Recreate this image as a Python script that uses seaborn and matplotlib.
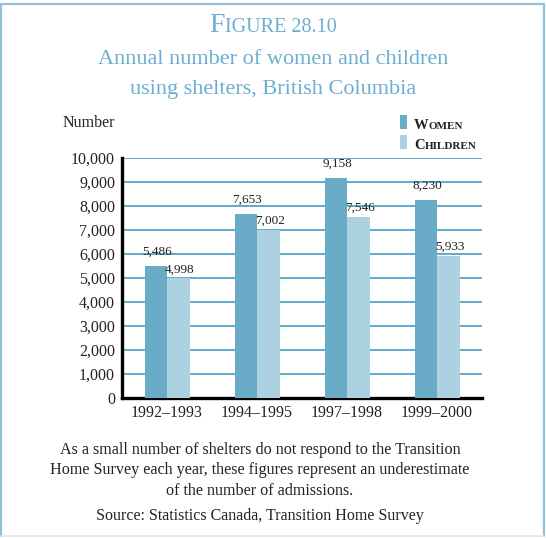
import pandas as pd
import seaborn as sns
import matplotlib.pyplot as plt
from matplotlib.patches import Rectangle
from matplotlib.lines import Line2D
from matplotlib.offsetbox import AnchoredOffsetbox, HPacker, VPacker, TextArea, DrawingArea

periods = ['1992–1993', '1994–1995', '1997–1998', '1999–2000']
women = [5486, 7653, 9158, 8230]
children = [4998, 7002, 7546, 5933]
groups = ['Women', 'Children']
y_ticks = [0, 1000, 2000, 3000, 4000, 5000, 6000, 7000, 8000, 9000, 10000]

df = pd.DataFrame({
    'period': periods * 2,
    'count': women + children,
    'group': ['Women'] * len(periods) + ['Children'] * len(periods),
})

sns.set_style('white')
plt.rcParams['font.family'] = ['Liberation Serif', 'DejaVu Serif']

teal = '#6aabc8'
light = '#acd1e1'
grid_blue = '#5eaacd'
title_blue = '#6caed0'
text_col = '#222222'

fig = plt.figure(figsize=(5.46, 5.38), dpi=100)
ax = fig.add_axes([122 / 546, 1 - 398 / 538, 360 / 546, 240 / 538])

sns.barplot(data=df, x='period', y='count', hue='group', hue_order=groups,
            palette=[teal, light], width=0.5, saturation=1, ax=ax, legend=False,
            linewidth=0, edgecolor='none', zorder=3)

ax.set_xlim(-0.5, 3.5)
ax.set_ylim(0, 10000)
ax.set_yticks(y_ticks)
ax.set_yticklabels([f'{v:,}' for v in y_ticks])
ax.yaxis.grid(True, color=grid_blue, linewidth=1.4, zorder=0)
ax.set_axisbelow(True)
ax.set_xlabel('')
ax.set_ylabel('')
for s in ['top', 'right']:
    ax.spines[s].set_visible(False)
for s in ['left', 'bottom']:
    ax.spines[s].set_color('black')
    ax.spines[s].set_linewidth(2.4)
ax.tick_params(axis='y', length=0, pad=5, labelsize=11.5, labelcolor=text_col)
ax.tick_params(axis='x', which='major', length=0, pad=5, labelsize=11.5, labelcolor=text_col)
ax.set_xticks([0.5, 1.5, 2.5, 3.5], minor=True)
ax.tick_params(axis='x', which='minor', direction='in', length=5, width=2, color='black')

# value labels
for bars, vals, off in zip(ax.containers, [women, children], [6, 2]):
    for b, v in zip(bars, vals):
        ax.annotate(f'{v:,}', (b.get_x() + b.get_width() / 2, v),
                    xytext=(1, off), textcoords='offset points',
                    ha='center', va='bottom', fontsize=9.5, color=text_col,
                    zorder=5)

def smallcaps(word, big, small, **kw):
    return HPacker(children=[TextArea(word[0], textprops=dict(size=big, **kw)),
                             TextArea(word[1:].upper(), textprops=dict(size=small, **kw))],
                   align='baseline', pad=0, sep=0)

# title
title = smallcaps('Figure 28.10', 20, 14.5, color=title_blue)
fig.add_artist(AnchoredOffsetbox(loc='upper center', child=title, pad=0, frameon=False,
                                 bbox_to_anchor=(0.5, 1 - 13 / 538),
                                 bbox_transform=fig.transFigure, borderpad=0))
fig.text(0.5, 1 - 64 / 538, 'Annual number of women and children', ha='center',
         va='baseline', fontsize=16, color=title_blue)
fig.text(0.5, 1 - 94 / 538, 'using shelters, British Columbia', ha='center',
         va='baseline', fontsize=16, color=title_blue)

fig.text(63 / 546, 1 - 127 / 538, 'Number', ha='left', va='baseline',
         fontsize=11.5, color=text_col)

# legend
rows = []
for g, c in zip(groups, [teal, light]):
    da = DrawingArea(7, 10, 0, 0)
    da.add_artist(Rectangle((0, 0), 5, 10, facecolor=c, edgecolor='none'))
    rows.append(HPacker(children=[da, smallcaps(g, 10.5, 8, color=text_col, weight='bold')],
                        align='baseline', pad=0, sep=3))
leg = VPacker(children=rows, align='left', pad=0, sep=2)
fig.add_artist(AnchoredOffsetbox(loc='upper left', child=leg, pad=0, frameon=False,
                                 bbox_to_anchor=(400 / 546, 1 - 115 / 538),
                                 bbox_transform=fig.transFigure, borderpad=0))

# footnote
notes = ['As a small number of shelters do not respond to the Transition',
         'Home Survey each year, these figures represent an underestimate',
         'of the number of admissions.']
for i, line in enumerate(notes):
    fig.text(260 / 546, 1 - (454 + 20.5 * i) / 538, line, ha='center', va='baseline',
             fontsize=11.6, color=text_col)
fig.text(260 / 546, 1 - 520 / 538, 'Source: Statistics Canada, Transition Home Survey',
         ha='center', va='baseline', fontsize=11.5, color=text_col)

# frame
fig.add_artist(Line2D([1 / 546, 1 / 546, 544 / 546, 544 / 546],
                      [1 - 536 / 538, 1 - 4 / 538, 1 - 4 / 538, 1 - 536 / 538],
                      transform=fig.transFigure, color='#8fc1da', linewidth=1.6))
fig.add_artist(Line2D([1 / 546, 544 / 546], [1 - 536 / 538, 1 - 536 / 538],
                      transform=fig.transFigure, color='#e6e6e6', linewidth=1.2))

fig.savefig('out.png', dpi=100)
